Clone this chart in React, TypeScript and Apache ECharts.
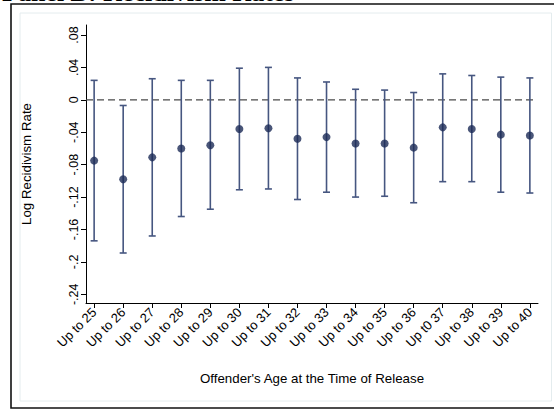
import React, { useEffect, useRef } from "react";
import * as echarts from "echarts";

const categories = [
  "Up to 25", "Up to 26", "Up to 27", "Up to 28", "Up to 29", "Up to 30",
  "Up to 31", "Up to 32", "Up to 33", "Up to 34", "Up to 35", "Up to 36",
  "Up t0 37", "Up to 38", "Up to 39", "Up to 40",
];
const estimates = [
  -0.075, -0.098, -0.071, -0.060, -0.056, -0.036, -0.035, -0.048,
  -0.046, -0.054, -0.054, -0.059, -0.034, -0.036, -0.043, -0.044,
];
const upper = [
  0.024, -0.007, 0.026, 0.024, 0.024, 0.039, 0.040, 0.027,
  0.022, 0.013, 0.012, 0.009, 0.032, 0.030, 0.028, 0.027,
];
const lower = [
  -0.174, -0.189, -0.168, -0.144, -0.135, -0.111, -0.110, -0.123,
  -0.114, -0.120, -0.119, -0.127, -0.101, -0.101, -0.114, -0.115,
];
const yTicks = [-0.24, -0.2, -0.16, -0.12, -0.08, -0.04, 0, 0.04, 0.08];
const zeroLine = [[-0.28, 0], [15.2, 0]];

function fmtY(v: number): string {
  if (Math.abs(v) < 1e-9) return "0";
  let s = v.toFixed(2).replace(/0+$/, "");
  s = s.replace("0.", ".");
  return s;
}

export default function App() {
  const ref = useRef<HTMLDivElement>(null);
  useEffect(() => {
    if (!ref.current) return;
    const chart = echarts.init(ref.current, null, { renderer: "svg" });
    const idx = categories.map((_, i) => i);
    const barData = idx.map((i) => [i, lower[i], upper[i]]);
    const pointData = idx.map((i) => [i, estimates[i]]);
    const font = "Liberation Sans, Arial, sans-serif";
    chart.setOption({
      animation: false,
      backgroundColor: "#ffffff",
      graphic: [
        {
          type: "rect",
          shape: { x: 11, y: 4, width: 600, height: 404 },
          style: { fill: "#ffffff", stroke: "#111111", lineWidth: 1.6 },
          z: -10,
        },
        {
          type: "rect",
          shape: { x: 20, y: 13, width: 531.5, height: 388 },
          style: { fill: "#ffffff", stroke: "#e4ecee", lineWidth: 1 },
          z: -9,
        },
        {
          type: "text",
          x: 2,
          y: 5,
          z: -11,
          style: {
            text: "Panel B: Recidivism Rates",
            font: "bold 26px 'Liberation Serif', 'Times New Roman', serif",
            fill: "#000",
            verticalAlign: "bottom",
          },
        },
      ],
      grid: { left: 86, right: 16, top: 25, bottom: 108, containLabel: false },
      xAxis: {
        type: "value",
        min: -0.28,
        max: 15.28,
        splitLine: { show: false },
        axisLine: { show: true, onZero: false, lineStyle: { color: "#000", width: 1 } },
        axisTick: {
          show: true,
          length: 5,
          customValues: idx,
          lineStyle: { color: "#000" },
        },
        axisLabel: {
          customValues: idx,
          rotate: 45,
          margin: 7,
          fontSize: 13,
          fontFamily: font,
          color: "#000",
          formatter: (v: number) => categories[Math.round(v)] ?? "",
        },
        name: "Offender's Age at the Time of Release",
        nameLocation: "middle",
        nameGap: 69,
        nameTextStyle: { fontSize: 13.3, fontFamily: font, color: "#000" },
      },
      yAxis: {
        type: "value",
        min: -0.2507,
        max: 0.0923,
        splitLine: { show: false },
        axisLine: { show: true, onZero: false, lineStyle: { color: "#000", width: 1 } },
        axisTick: {
          show: true,
          length: 5,
          customValues: yTicks,
          lineStyle: { color: "#000" },
        },
        axisLabel: {
          customValues: yTicks,
          rotate: 90,
          margin: 12,
          align: "center",
          verticalAlign: "middle",
          fontSize: 12.5,
          fontFamily: font,
          color: "#000",
          formatter: (v: number) => fmtY(v),
        },
        name: "Log Recidivism Rate",
        nameLocation: "middle",
        nameGap: 53,
        nameTextStyle: { fontSize: 13.3, fontFamily: font, color: "#000" },
      },
      series: [
        {
          type: "line",
          data: zeroLine,
          symbol: "none",
          silent: true,
          lineStyle: { color: "#4a4a4a", type: [7, 4], width: 1.3 },
          z: 1,
        },
        {
          type: "custom",
          data: barData,
          encode: { x: 0, y: [1, 2] },
          renderItem: (params: any, api: any) => {
            const x = api.value(0);
            const lo = api.coord([x, api.value(1)]);
            const hi = api.coord([x, api.value(2)]);
            const cap = 3.5;
            const style = { stroke: "#465680", lineWidth: 1.6 };
            return {
              type: "group",
              children: [
                { type: "line", shape: { x1: lo[0], y1: lo[1], x2: hi[0], y2: hi[1] }, style },
                { type: "line", shape: { x1: lo[0] - cap, y1: lo[1], x2: lo[0] + cap, y2: lo[1] }, style },
                { type: "line", shape: { x1: hi[0] - cap, y1: hi[1], x2: hi[0] + cap, y2: hi[1] }, style },
              ],
            };
          },
          z: 2,
        },
        {
          type: "scatter",
          data: pointData,
          symbol: "circle",
          symbolSize: 8,
          itemStyle: { color: "#1b2a56" },
          z: 3,
        },
      ],
    });
    return () => chart.dispose();
  }, []);
  return (
    <div
      ref={ref}
      style={{ position: "fixed", left: 0, top: 0, width: 554, height: 411, background: "#fff" }}
    />
  );
}
